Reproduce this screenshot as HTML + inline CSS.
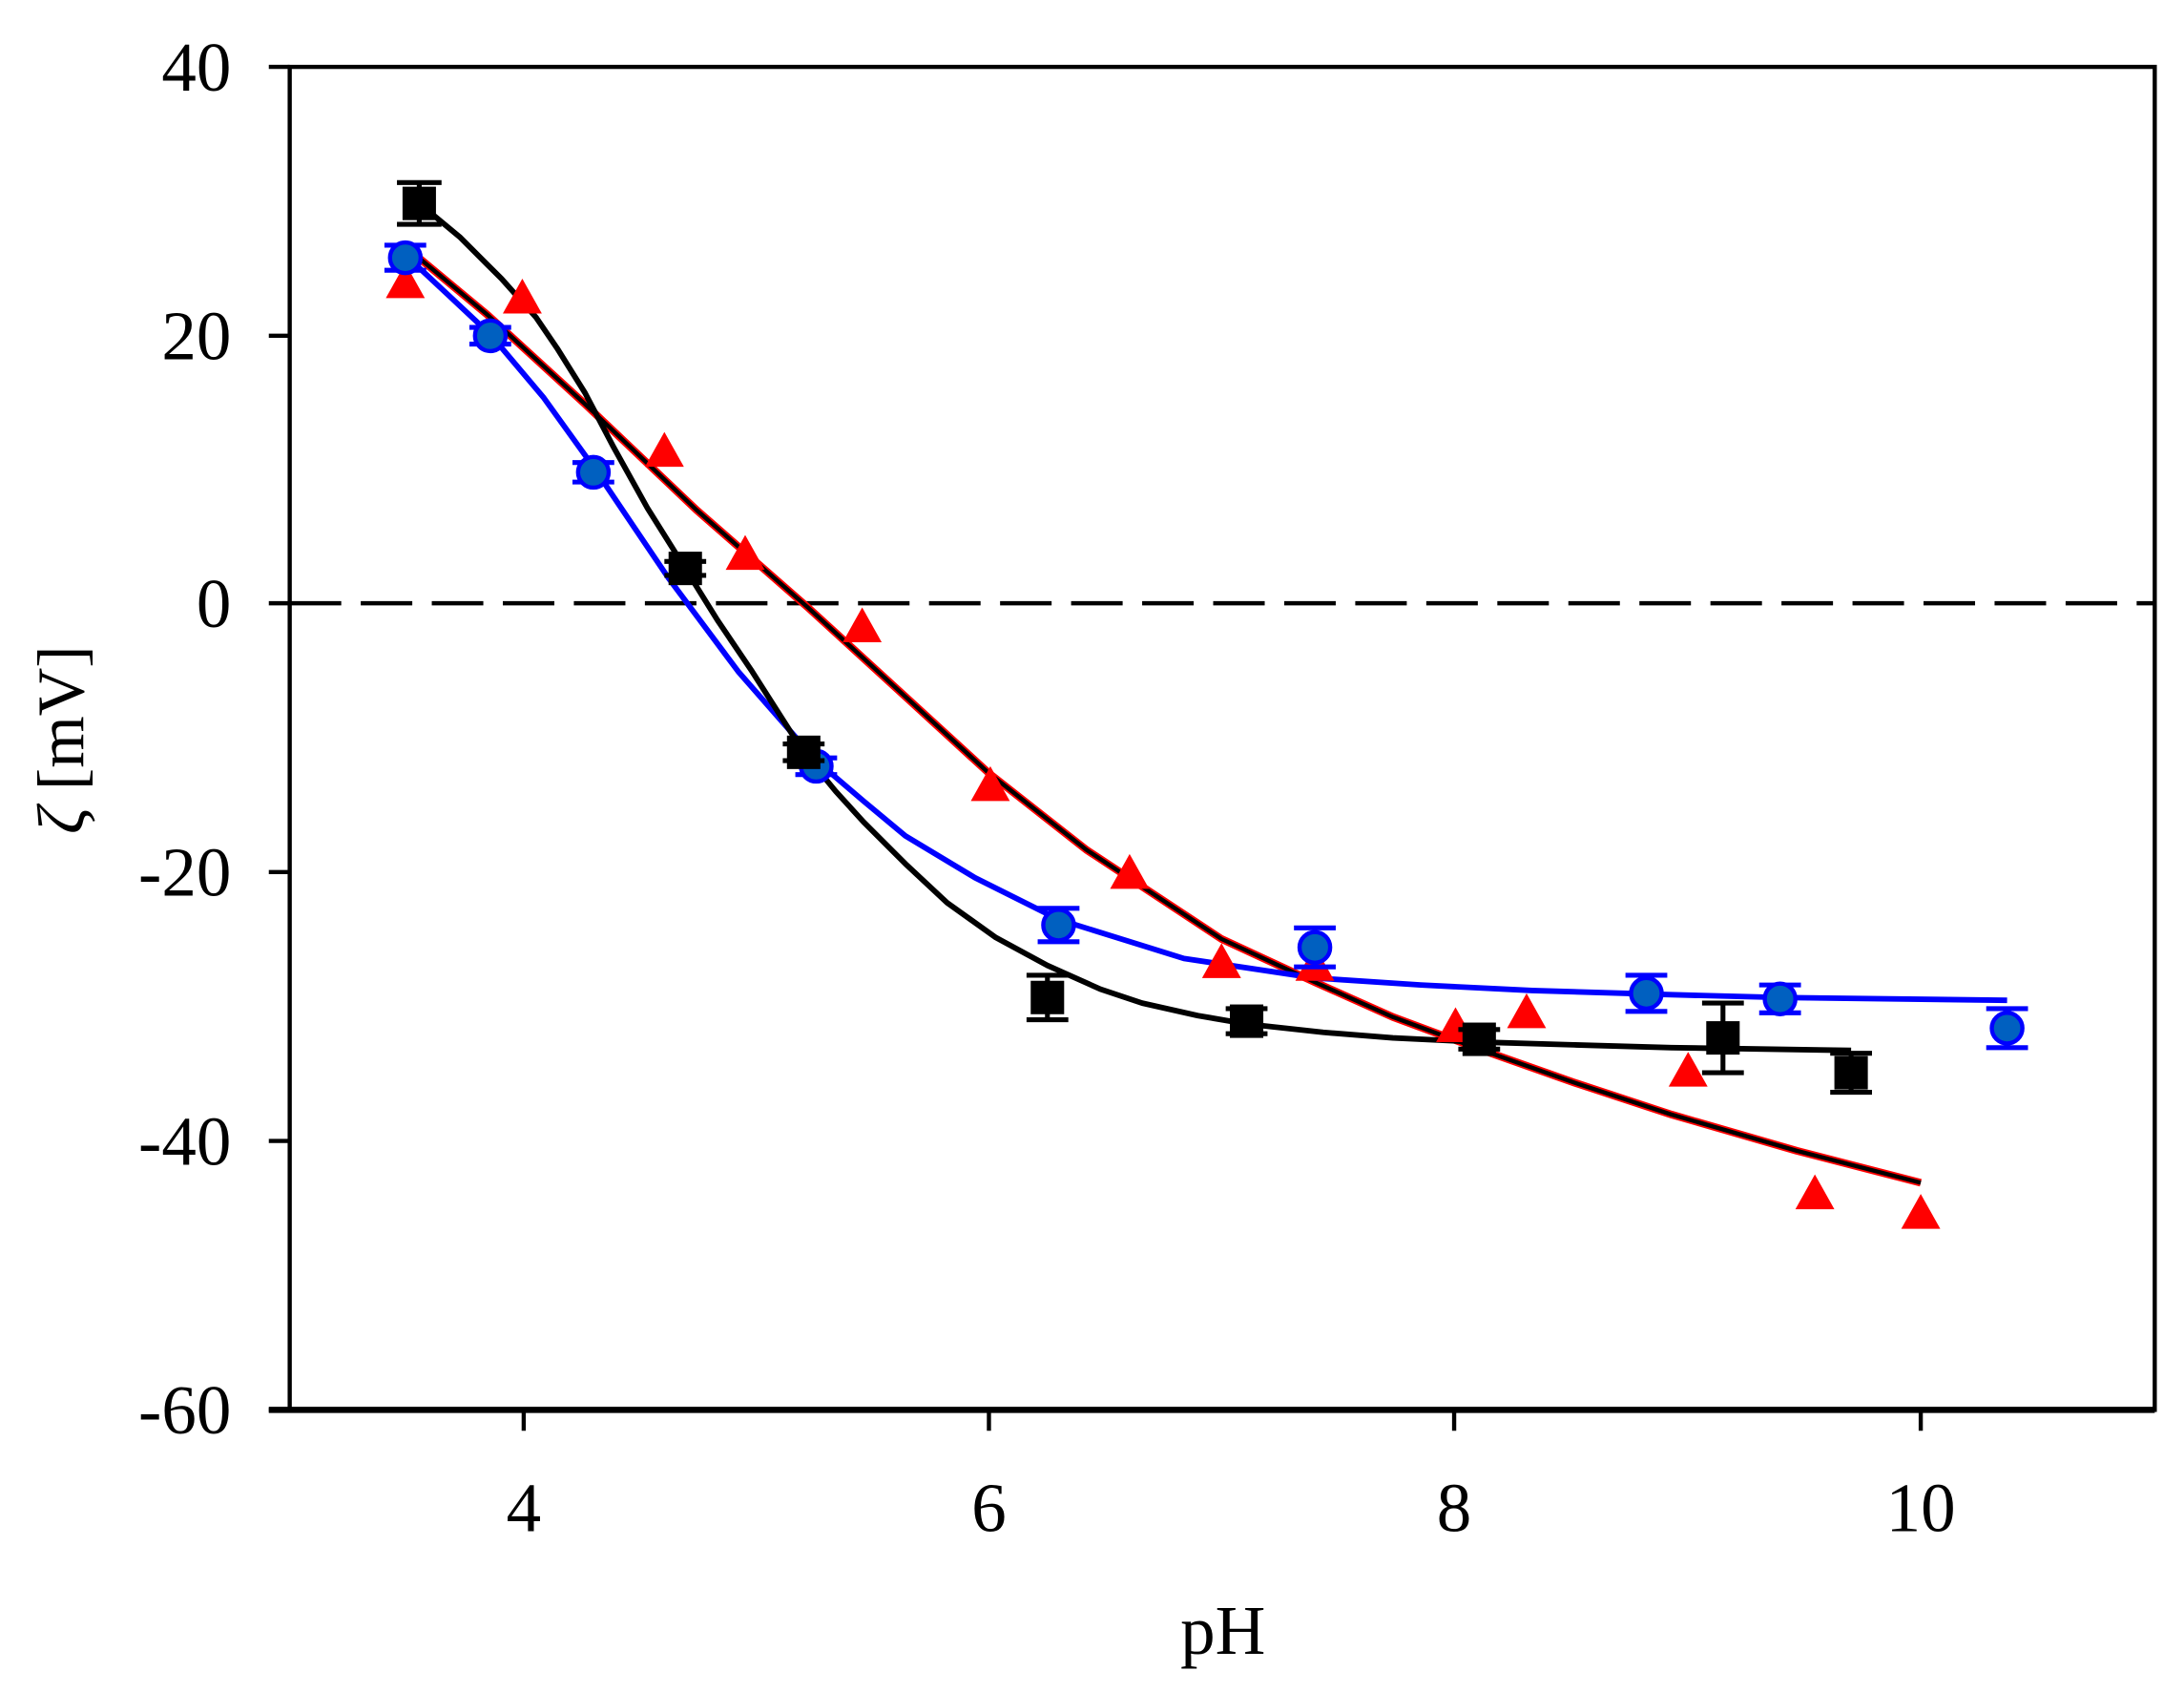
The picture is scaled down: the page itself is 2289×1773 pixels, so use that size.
<!DOCTYPE html>
<html><head><meta charset="utf-8"><style>html,body{margin:0;padding:0;background:#fff}svg{display:block}text{font-family:"Liberation Serif","Times New Roman",serif}</style></head>
<body>
<svg width="2289" height="1773" viewBox="0 0 1568 1214.5" xmlns="http://www.w3.org/2000/svg">
<rect width="1568" height="1214.5" fill="#fff"/>
<rect x="208" y="48" width="1339" height="964" fill="none" stroke="#000" stroke-width="3"/>
<line x1="193" y1="1012" x2="1547" y2="1012" stroke="#000" stroke-width="4.5"/>
<g stroke="#000" stroke-width="3">
<line x1="193" y1="48" x2="208" y2="48"/><line x1="193" y1="241" x2="208" y2="241"/>
<line x1="193" y1="433" x2="208" y2="433"/><line x1="193" y1="626" x2="208" y2="626"/>
<line x1="193" y1="819" x2="208" y2="819"/><line x1="193" y1="1012" x2="208" y2="1012"/>
<line x1="376" y1="1012" x2="376" y2="1027"/><line x1="710" y1="1012" x2="710" y2="1027"/>
<line x1="1044" y1="1012" x2="1044" y2="1027"/><line x1="1379" y1="1012" x2="1379" y2="1027"/>
</g>
<g font-size="50" text-anchor="end">
<text x="166" y="65">40</text><text x="166" y="258">20</text><text x="166" y="450">0</text>
<text x="166" y="643">-20</text><text x="166" y="836">-40</text><text x="166" y="1029">-60</text>
</g>
<g font-size="50" text-anchor="middle">
<text x="376" y="1099">4</text><text x="710" y="1099">6</text><text x="1044" y="1099">8</text><text x="1379" y="1099">10</text>
<text x="878" y="1187">pH</text>
</g>
<text transform="translate(60,531) rotate(-90)" font-size="48" text-anchor="middle"><tspan font-style="italic">ζ</tspan> [mV]</text>
<line x1="208" y1="433" x2="1547" y2="433" stroke="#000" stroke-width="3" stroke-dasharray="37,14"/>
<polyline fill="none" stroke="#ff0000" stroke-width="5.5" stroke-linejoin="round" points="291,177 350,226 420,290 500,366 580,436 650,500 710,555 780,610 877,674 944,705 1000,730 1062,753 1130,777 1200,800 1290,826 1379,849"/>
<polyline fill="none" stroke="#000" stroke-width="3" stroke-linejoin="round" points="291,177 350,226 420,290 500,366 580,436 650,500 710,555 780,610 877,674 944,705 1000,730 1062,753 1130,777 1200,800 1290,826 1379,849"/>
<polyline fill="none" stroke="#0000ff" stroke-width="4" stroke-linejoin="round" points="291,183 320,210 352,240 390,285 426,335 455,378 480,415 530,482 586,546 620,575 650,600 700,630 760,660 850,688 944,702 1020,707 1100,711 1200,714 1278,716 1441,718"/>
<polyline fill="none" stroke="#000" stroke-width="4" stroke-linejoin="round" points="301,146 330,170 360,200 385,228 400,250 420,282 440,320 465,365 492,408 515,445 540,482 577,540 600,568 620,590 650,620 680,648 715,673 752,693 790,710 820,720 860,729 895,735 950,741 1000,745 1062,748 1130,750 1200,752 1329,754"/>
<g fill="#ff0000">
<path d="M291,189 l14,25 h-28z"/><path d="M375,200 l14,25 h-28z"/><path d="M477,310 l14,25 h-28z"/>
<path d="M535,384 l14,25 h-28z"/><path d="M619,436 l14,25 h-28z"/><path d="M711,550 l14,25 h-28z"/>
<path d="M811,613 l14,25 h-28z"/><path d="M877,677 l14,25 h-28z"/><path d="M944,679 l14,25 h-28z"/>
<path d="M1045,723 l14,25 h-28z"/><path d="M1096,713 l14,25 h-28z"/><path d="M1212,755 l14,25 h-28z"/>
<path d="M1303,843 l14,25 h-28z"/><path d="M1379,857 l14,25 h-28z"/>
</g>
<g stroke="#0000ff" stroke-width="3.5" fill="none">
<path d="M291,176v18M276,176h30M276,194h30"/>
<path d="M352,235v12M337,235h30M337,247h30"/>
<path d="M426,332v14M411,332h30M411,346h30"/>
<path d="M586,544v12M571,544h30M571,556h30"/>
<path d="M760,652v24M745,652h30M745,676h30"/>
<path d="M944,666v28M929,666h30M929,694h30"/>
<path d="M1182,700v26M1167,700h30M1167,726h30"/>
<path d="M1278,707v20M1263,707h30M1263,727h30"/>
<path d="M1441,724v28M1426,724h30M1426,752h30"/>
</g>
<g fill="#0060c0" stroke="#0000ff" stroke-width="3">
<circle cx="291" cy="185" r="11"/><circle cx="352" cy="241" r="11"/><circle cx="426" cy="339" r="11"/>
<circle cx="586" cy="550" r="11"/><circle cx="760" cy="664" r="11"/><circle cx="944" cy="680" r="11"/>
<circle cx="1182" cy="713" r="11"/><circle cx="1278" cy="717" r="11"/><circle cx="1441" cy="738" r="11"/>
</g>
<g stroke="#000" stroke-width="3.5" fill="none">
<path d="M301,131v30M285,131h32M285,161h32"/>
<path d="M492,403v10M477,403h30M477,413h30"/>
<path d="M577,534v12M562,534h30M562,546h30"/>
<path d="M752,700v32M737,700h30M737,732h30"/>
<path d="M895,724v18M880,724h30M880,742h30"/>
<path d="M1062,739v14M1047,739h30M1047,753h30"/>
<path d="M1237,720v50M1222,720h30M1222,770h30"/>
<path d="M1329,756v28M1314,756h30M1314,784h30"/>
</g>
<g fill="#000">
<rect x="289" y="134" width="24" height="24"/><rect x="480" y="396" width="24" height="24"/>
<rect x="565" y="528" width="24" height="24"/><rect x="740" y="704" width="24" height="24"/>
<rect x="883" y="721" width="24" height="24"/><rect x="1050" y="734" width="24" height="24"/>
<rect x="1225" y="733" width="24" height="24"/><rect x="1317" y="758" width="24" height="24"/>
</g>
</svg>
</body></html>
